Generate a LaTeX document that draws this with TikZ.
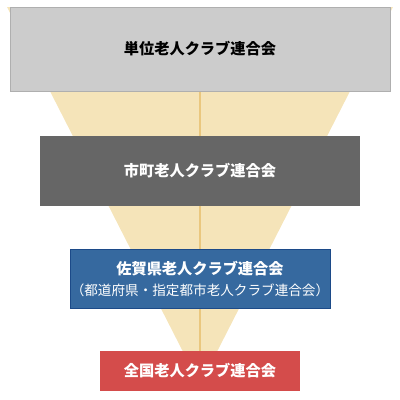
\documentclass[tikz,border=0pt]{standalone}
\usepackage{fontspec}
\setmainfont{Noto Sans CJK JP}
\usetikzlibrary{backgrounds}
\definecolor{boxgray}{HTML}{CCCCCC}
\definecolor{boxgrayline}{HTML}{AFAFAF}
\definecolor{funnel}{HTML}{F5E4B9}
\definecolor{funnelline}{HTML}{EAC77E}
\definecolor{darkbox}{HTML}{666666}
\definecolor{bluebox}{HTML}{36699F}
\definecolor{blueline}{HTML}{1C4A88}
\definecolor{redbox}{HTML}{D44C4B}
\tikzset{
  tier/.style={rectangle, inner sep=0pt, align=center, font=\fontsize{15.2}{18}\selectfont\bfseries},
}
\begin{document}
\begin{tikzpicture}[x=1pt,y=-1pt]
\useasboundingbox (0,0) rectangle (400,400);
\node[tier, fill=boxgray, draw=boxgrayline, line width=0.8pt, minimum width=380pt, minimum height=84pt, text=black] (t1) at (200,49) {単位老人クラブ連合会};
\node[tier, fill=darkbox, minimum width=320pt, minimum height=70pt, text=white] (t2) at (200,171) {市町老人クラブ連合会};
\node[tier, fill=bluebox, draw=blueline, line width=0.8pt, minimum width=260pt, minimum height=59pt, text=white] (t3) at (200,279) {佐賀県老人クラブ連合会\\[3pt]{\fontsize{13.6}{15}\selectfont\mdseries （都道府県・指定都市老人クラブ連合会）}};
\node[tier, fill=redbox, minimum width=200pt, minimum height=40pt, text=white] (t4) at (200,371) {全国老人クラブ連合会};
\begin{pgfonlayer}{background}
\fill[funnel] (7,7) -- (393,7) -- (200,385) -- cycle;
\draw[funnelline, line width=1.6pt] (t1.south) -- (t4.north);
\end{pgfonlayer}
\end{tikzpicture}
\end{document}
